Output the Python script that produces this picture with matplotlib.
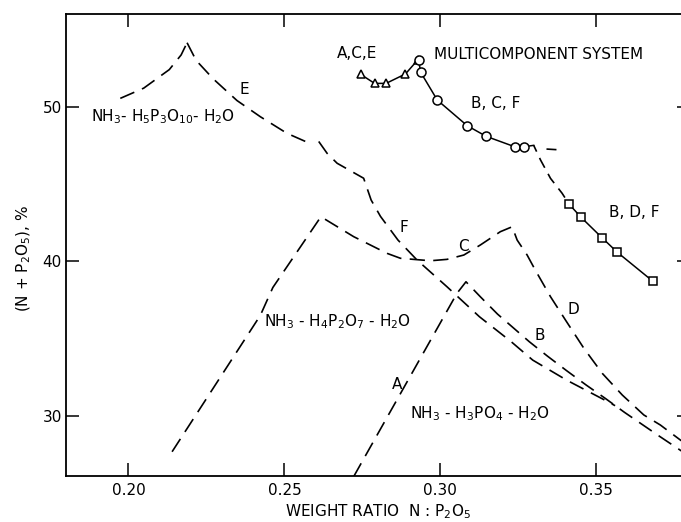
import matplotlib
matplotlib.use('Agg')
import matplotlib.pyplot as plt

plt.rcParams['font.family'] = ['DejaVu Sans']
plt.rcParams['mathtext.default'] = 'regular'
plt.rcParams['lines.scale_dashes'] = False

# ---- NH3-H5P3O10-H2O system (dashed) ----
tri_left_x = [0.1974, 0.2049, 0.2131, 0.2169, 0.2188]
tri_left_y = [50.54, 51.20, 52.40, 53.35, 54.14]
tri_E_x = [0.2188, 0.2217, 0.2272, 0.2348, 0.2423, 0.2508, 0.2590]
tri_E_y = [54.14, 53.00, 51.80, 50.40, 49.35, 48.28, 47.55]
tri_F_x = [0.2610, 0.2637, 0.2669, 0.2754, 0.2778, 0.2808, 0.2864, 0.2925, 0.3021, 0.3125, 0.3227,
           0.3296, 0.3405, 0.3528, 0.3560]
tri_F_y = [47.75, 46.98, 46.34, 45.37, 43.96, 42.90, 41.37, 40.08, 38.35, 36.41, 34.79,
           33.60, 32.30, 31.00, 30.65]

# ---- NH3-H4P2O7-H2O system (dashed) ----
pyro_x = [0.2140, 0.2423, 0.2463, 0.2617, 0.2722, 0.2829, 0.2872, 0.2968, 0.3021, 0.3075, 0.3128, 0.3192, 0.3230,
          0.3246, 0.3278, 0.3304, 0.3353, 0.3401, 0.3460, 0.3519, 0.3583, 0.3652, 0.3705, 0.3769, 0.3800]
pyro_y = [27.67, 36.50, 38.30, 42.88, 41.59, 40.51, 40.19, 40.03, 40.12, 40.40, 41.05, 41.91, 42.23,
          41.37, 40.40, 39.43, 37.70, 36.19, 34.36, 32.74, 31.34, 30.05, 29.40, 28.43, 28.00]

# ---- NH3-H3PO4-H2O system (dashed) ----
ortho_x = [0.2722, 0.3053, 0.3082, 0.3128, 0.3183, 0.3285, 0.3343, 0.3405, 0.3467, 0.3528, 0.3590, 0.3700, 0.3800]
ortho_y = [26.06, 37.92, 38.67, 37.70, 36.58, 34.79, 33.86, 32.91, 31.99, 31.13, 30.22, 28.70, 27.35]

# ---- Multicomponent system (measured points) ----
ace_x = [0.2744, 0.2789, 0.2826, 0.2888, 0.2927]
ace_y = [52.10, 51.51, 51.51, 52.12, 53.02]
bcf_x = [0.2930, 0.2937, 0.2990, 0.3086, 0.3147, 0.3238, 0.3269]
bcf_y = [53.00, 52.22, 50.43, 48.77, 48.08, 47.41, 47.41]
bdf_x = [0.3413, 0.3451, 0.3518, 0.3567, 0.3680]
bdf_y = [43.68, 42.84, 41.52, 40.58, 38.72]
bcf_end_x = [0.3269, 0.3299]
bcf_end_y = [47.41, 47.50]
link_x = [0.3299, 0.3321, 0.3353, 0.3390, 0.3413]
link_y = [47.50, 46.55, 45.36, 44.40, 43.68]
ext_x = [0.3340, 0.3372]
ext_y = [47.26, 47.22]

fig = plt.figure(figsize=(6.81, 5.22), dpi=100)
ax = fig.add_axes([66 / 681, 46 / 522, 624 / 681, 462 / 522])
ax.set_xlim(0.18, 0.38)
ax.set_ylim(26.1, 56.0)

dash = dict(color='black', lw=1.2, linestyle=(0, (11, 6)))
ax.plot(tri_left_x, tri_left_y, **dash)
ax.plot(tri_E_x, tri_E_y, **dash)
ax.plot(tri_F_x, tri_F_y, **dash)
ax.plot(pyro_x, pyro_y, **dash)
ax.plot(ortho_x, ortho_y, **dash)
ax.plot(link_x, link_y, color='black', lw=1.2, linestyle=(3, (8, 5)))
ax.plot(ext_x, ext_y, color='black', lw=1.2, solid_capstyle='butt')

ax.plot(ace_x, ace_y, '-', color='black', lw=1.1, marker='^', ms=6, mfc='white', mec='black', mew=1.1)
ax.plot(bcf_x, bcf_y, '-', color='black', lw=1.1)
ax.plot(bcf_end_x, bcf_end_y, '-', color='black', lw=1.1)
ax.plot(bcf_x, bcf_y, 'o', ms=6.5, mfc='white', mec='black', mew=1.1)
ax.plot(bdf_x, bdf_y, '-', color='black', lw=1.1, marker='s', ms=5.5, mfc='white', mec='black', mew=1.1)

tk = dict(fontsize=11, color='black', va='baseline')
ax.text(0.1880, 49.03, r'NH$_3$- H$_5$P$_3$O$_{10}$- H$_2$O', ha='left', **tk)
ax.text(0.2372, 50.83, 'E', ha='center', **tk)
ax.text(0.2883, 41.86, 'F', ha='center', **tk)
ax.text(0.3075, 40.69, 'C', ha='center', **tk)
ax.text(0.3425, 36.58, 'D', ha='center', **tk)
ax.text(0.3320, 34.91, 'B', ha='center', **tk)
ax.text(0.2862, 31.73, 'A', ha='center', **tk)
ax.text(0.2436, 35.76, r'NH$_3$ - H$_4$P$_2$O$_7$ - H$_2$O', ha='left', **tk)
ax.text(0.2902, 29.83, r'NH$_3$ - H$_3$PO$_4$ - H$_2$O', ha='left', **tk)
ax.text(0.2734, 53.17, 'A,C,E', ha='center', **tk)
ax.text(0.2979, 53.07, 'MULTICOMPONENT SYSTEM', ha='left', **tk)
ax.text(0.3178, 49.90, 'B, C, F', ha='center', **tk)
ax.text(0.3622, 42.88, 'B, D, F', ha='center', **tk)

ax.set_xticks([0.20, 0.25, 0.30, 0.35])
ax.set_xticklabels(['0.20', '0.25', '0.30', '0.35'])
ax.set_yticks([30, 40, 50])
ax.tick_params(direction='in', length=9.5, width=1.1, top=True, right=True, labelsize=11, pad=5)
ax.tick_params(axis='y', pad=3)
for s in ax.spines.values():
    s.set_linewidth(1.3)

ax.set_xlabel(r'WEIGHT RATIO  N : P$_2$O$_5$', fontsize=11, labelpad=3)
ax.set_ylabel(r'(N + P$_2$O$_5$), %', fontsize=11)
ax.yaxis.set_label_coords(-0.053, 0.472)

fig.savefig('out.png', dpi=100)
